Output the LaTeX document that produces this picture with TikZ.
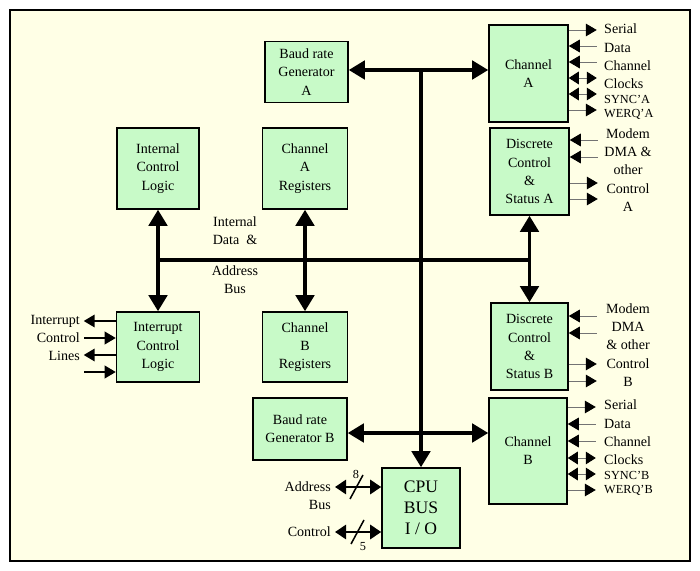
\documentclass[tikz,border=0pt]{standalone}
\usepackage{fontspec}
\setmainfont{Liberation Serif}
\usetikzlibrary{arrows.meta}
\definecolor{paper}{HTML}{FFFFE6}
\definecolor{boxgreen}{HTML}{C8FAC8}
\tikzstyle{blk}=[draw=black, line width=1.3pt, shape=rectangle, fill=boxgreen, align=center, inner sep=1pt, font=\fontsize{12}{15.5}\selectfont]
\tikzstyle{lbl}=[inner sep=0pt, align=center, font=\fontsize{12}{15.5}\selectfont]
\tikzstyle{bus}=[line width=3pt, arrows={-{Triangle[length=0.48cm, width=0.55cm]}}]
\tikzstyle{bus2}=[line width=3pt, arrows={{Triangle[length=0.48cm, width=0.55cm]}-{Triangle[length=0.48cm, width=0.55cm]}}]
\tikzstyle{sig}=[line width=0.8pt, draw=black!55]
\tikzstyle{sout}=[-{Triangle[length=0.33cm, width=0.38cm, color=black]}]
\tikzstyle{sin}=[{Triangle[length=0.33cm, width=0.38cm, color=black]}-]
\tikzstyle{sboth}=[{Triangle[length=0.3cm, width=0.38cm, color=black]}-{Triangle[length=0.3cm, width=0.38cm, color=black]}]
\newcommand{\sigfont}{\fontsize{10.5}{12}\selectfont}
\begin{document}
\begin{tikzpicture}[x=0.03cm, y=-0.03cm]
\useasboundingbox (0,0) rectangle (700,571);
\draw[line width=1.5pt, fill=paper] (10,10) rectangle (690,561);

\node [blk, minimum width=2.49cm, minimum height=1.83cm] (baudA) at (306.5,72) {Baud rate\\Generator\\A};
\node [blk, minimum width=2.37cm, minimum height=2.91cm] (chanA) at (528.5,73.5) {Channel\\A};
\node [blk, minimum width=2.37cm, minimum height=2.61cm] (discA) at (529.5,171.5) {Discrete\\Control\\\&\\Status A};
\node [blk, minimum width=2.46cm, minimum height=2.43cm] (icl) at (158,168.5) {Internal\\Control\\Logic};
\node [blk, minimum width=2.55cm, minimum height=2.43cm] (regA) at (305,168.5) {Channel\\A\\Registers};
\node [blk, minimum width=2.49cm, minimum height=2.1cm] (irq) at (158,347) {Interrupt\\Control\\Logic};
\node [blk, minimum width=2.55cm, minimum height=2.1cm] (regB) at (305,347) {Channel\\B\\Registers};
\node [blk, minimum width=2.31cm, minimum height=2.61cm] (discB) at (529.5,346.5) {Discrete\\Control\\\&\\Status B};
\node [blk, minimum width=2.82cm, minimum height=1.86cm] (baudB) at (300,429) {Baud rate\\Generator B};
\node [blk, minimum width=2.34cm, minimum height=3.18cm] (chanB) at (528,451) {Channel\\B};
\node [blk, minimum width=2.34cm, minimum height=2.4cm, font=\fontsize{15}{18}\selectfont] (cpu) at (421,508) {CPU\\BUS\\I / O};

\coordinate (cpubus) at (421,70);
\coordinate (busB) at (421,433);
\coordinate (busL) at (158,260);
\coordinate (busR) at (529.5,260);

\node [lbl] (ibus1) at (235,231) {Internal\\Data~~\&};
\node [lbl] (ibus2) at (235,280) {Address\\Bus};

% buses
\draw[bus2] (baudA.east |- cpubus) -- (chanA.west |- cpubus);
\draw[bus2] (baudB.east |- busB) -- (chanB.west |- busB);
\draw[bus] (cpubus) -- (cpu);
\draw[line width=3pt] (busL) -- (busR);
\draw[bus2] (icl) -- (irq);
\draw[bus2] (regA) -- (regB);
\draw[bus2] (discA) -- (discB);

% channel signals
\foreach \y/\tip in {30/sout, 46/sin, 62/sin, 78/sboth, 94/sboth, 110/sout}
  \draw[sig, \tip] (chanA.east |- 0,\y) -- ++(28,0);
\foreach \y/\tip in {407/sout, 424/sin, 441/sin, 458/sboth, 474/sboth, 490/sout}
  \draw[sig, \tip] (chanB.east |- 0,\y) -- ++(28,0);
\foreach \y/\tip in {140/sin, 157/sin, 183/sout, 199/sout}
  \draw[sig, \tip] (discA.east |- 0,\y) -- ++(28,0);
\foreach \y/\tip in {316/sin, 333/sin, 364/sout, 381/sout}
  \draw[sig, \tip] (discB.east |- 0,\y) -- ++(28,0);
\foreach \y/\tip in {321/sout, 338/sin, 355/sout, 372/sin}
  \draw[line width=1.3pt, \tip] (irq.west |- 0,\y) -- ++(-32,0);

\node [lbl, anchor=west, align=left] (sigA) at (604,72) {Serial\\Data\\Channel\\Clocks\\[-3pt]{\sigfont SYNC'A}\\[-3pt]{\sigfont WERQ'A}};
\node [lbl, anchor=west, align=left] (sigB) at (604,448) {Serial\\Data\\Channel\\Clocks\\[-3pt]{\sigfont SYNC'B}\\[-3pt]{\sigfont WERQ'B}};
\node [lbl] (ctlA) at (628,170) {Modem\\DMA \&\\other\\Control\\A};
\node [lbl] (ctlB) at (628,345) {Modem\\DMA\\\& other\\Control\\B};
\node [lbl, anchor=east, align=right] (irqtxt) at (80,338) {Interrupt\\Control\\Lines};

% cpu side buses
\coordinate (addr) at (335,487);
\coordinate (ctrl) at (335,532);
\draw[line width=2.5pt, arrows={{Triangle[length=0.33cm, width=0.42cm]}-{Triangle[length=0.33cm, width=0.42cm]}}] (addr) -- (cpu.west |- addr);
\draw[line width=2.5pt, arrows={{Triangle[length=0.33cm, width=0.42cm]}-{Triangle[length=0.33cm, width=0.42cm]}}] (ctrl) -- (cpu.west |- ctrl);
\draw[line width=1.3pt] (350,499) -- (363,475);
\draw[line width=1.3pt] (351,544) -- (364,520);
\node [lbl, font=\sigfont] (n8) at (356,474) {8};
\node [lbl, font=\sigfont] (n5) at (363,547) {5};
\node [lbl, anchor=east, align=right] (addrtxt) at (331,496) {Address\\Bus};
\node [lbl, anchor=east] (ctrltxt) at (331,532) {Control};
\end{tikzpicture}
\end{document}
